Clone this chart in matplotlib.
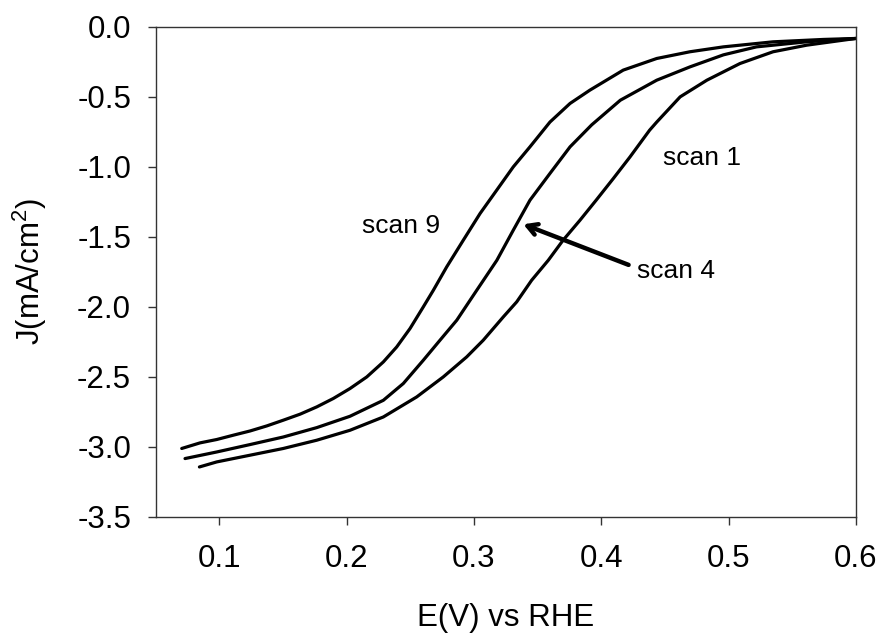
import numpy as np
import matplotlib
matplotlib.use("Agg")
import matplotlib.pyplot as plt

plt.rcParams['font.family'] = ['Liberation Sans', 'DejaVu Sans']
plt.rcParams['mathtext.fontset'] = 'custom'
plt.rcParams['mathtext.rm'] = 'Liberation Sans'
plt.rcParams['mathtext.it'] = 'Liberation Sans'

# ---------- data ----------
scan9_E = [0.0704, 0.0848, 0.0979, 0.1110, 0.1241, 0.1372, 0.1502, 0.1634, 0.1765, 0.1895,
           0.2026, 0.2158, 0.2288, 0.2393, 0.2498, 0.2602, 0.2681, 0.2786, 0.2916, 0.3048,
           0.3179, 0.3309, 0.3440, 0.3597, 0.3755, 0.3911, 0.4173, 0.4436, 0.4697, 0.4960,
           0.5350, 0.5745, 0.6000]
scan9_J = [-3.011, -2.971, -2.947, -2.916, -2.886, -2.850, -2.809, -2.766, -2.714, -2.654,
           -2.583, -2.500, -2.393, -2.286, -2.154, -2.000, -1.881, -1.714, -1.524, -1.333,
           -1.166, -1.000, -0.857, -0.680, -0.547, -0.452, -0.309, -0.226, -0.178, -0.143,
           -0.107, -0.090, -0.083]

scan4_E = [0.0730, 0.0979, 0.1241, 0.1502, 0.1765, 0.2026, 0.2288, 0.2445, 0.2602, 0.2733,
           0.2865, 0.3022, 0.3180, 0.3309, 0.3440, 0.3597, 0.3755, 0.3925, 0.4150, 0.4436,
           0.4697, 0.4960, 0.5220, 0.5614, 0.6000]
scan4_J = [-3.083, -3.036, -2.983, -2.929, -2.862, -2.781, -2.667, -2.547, -2.381, -2.238,
           -2.095, -1.881, -1.667, -1.452, -1.238, -1.047, -0.857, -0.700, -0.524, -0.381,
           -0.286, -0.200, -0.143, -0.107, -0.083]

scan1_E = [0.0843, 0.0979, 0.1241, 0.1502, 0.1765, 0.2026, 0.2288, 0.2550, 0.2759, 0.2943,
           0.3073, 0.3231, 0.3336, 0.3453, 0.3584, 0.3700, 0.3833, 0.3960, 0.4095, 0.4226,
           0.4380, 0.4436, 0.4620, 0.4830, 0.5090, 0.5350, 0.5614, 0.6000]
scan1_J = [-3.143, -3.107, -3.059, -3.011, -2.952, -2.881, -2.786, -2.643, -2.500, -2.357,
           -2.238, -2.071, -1.964, -1.810, -1.667, -1.524, -1.381, -1.238, -1.083, -0.929,
           -0.738, -0.680, -0.500, -0.381, -0.262, -0.178, -0.131, -0.083]

x_ticks = [0.1, 0.2, 0.3, 0.4, 0.5, 0.6]
y_ticks = [0.0, -0.5, -1.0, -1.5, -2.0, -2.5, -3.0, -3.5]

# ---------- figure ----------
fig = plt.figure(figsize=(8.85, 6.39), dpi=100)
ax = fig.add_axes([0.176, 0.191, 0.791, 0.767])

for E, J in [(scan9_E, scan9_J), (scan4_E, scan4_J), (scan1_E, scan1_J)]:
    ax.plot(E, J, color='black', lw=2.3, solid_capstyle='round', solid_joinstyle='round')

ax.set_xlim(0.05, 0.6)
ax.set_ylim(-3.5, 0.0)
ax.set_xticks(x_ticks)
ax.set_xticklabels([f"{v:.1f}" for v in x_ticks])
ax.set_yticks(y_ticks)
ax.set_yticklabels([f"{v:.1f}" for v in y_ticks])

for sp in ax.spines.values():
    sp.set_linewidth(1.0)
    sp.set_color('#333333')
ax.tick_params(direction='out', length=5.8, width=1.0, color='#333333', labelsize=22.5)
ax.tick_params(axis='x', pad=14)
ax.tick_params(axis='y', pad=12)

ax.set_xlabel("E(V) vs RHE", fontsize=22.5)
ax.set_ylabel("J(mA/cm$^{2}$)", fontsize=22.5)
ax.xaxis.label.set_va('center')
ax.yaxis.label.set_va('center')
ax.xaxis.set_label_coords(0.5, -0.207)
ax.yaxis.set_label_coords(-0.18, 0.5)

# annotations
ax.text(0.2427, -1.424, "scan 9", fontsize=19, ha='center', va='center')
ax.text(0.479, -0.94, "scan 1", fontsize=19, ha='center', va='center')
ax.text(0.459, -1.745, "scan 4", fontsize=19, ha='center', va='center')
ax.annotate('', xy=(0.3388, -1.41), xytext=(0.4215, -1.70),
            arrowprops=dict(arrowstyle='->,head_length=0.7,head_width=0.4',
                            lw=3.2, color='black', shrinkA=0, shrinkB=0,
                            capstyle='round'))

fig.savefig("out.png", dpi=100)
